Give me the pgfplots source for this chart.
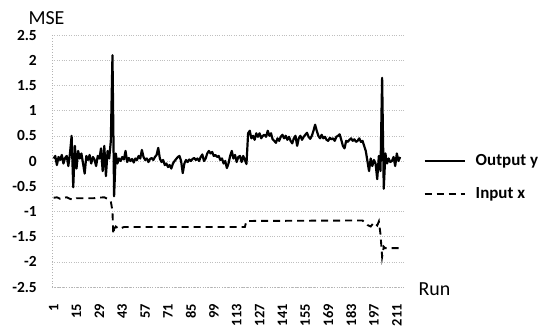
\documentclass[border=0pt]{standalone}
\usepackage{pgfplots}
\pgfplotsset{compat=1.18}
\usepackage{fontspec}
\setmainfont{Carlito}
\begin{document}
\begin{tikzpicture}
\useasboundingbox (-52bp,-41bp) rectangle (496bp,287bp);
\begin{axis}[
  scale only axis, width=353bp, height=252bp,
  xmin=0, xmax=216, ymin=-2.5, ymax=2.5,
  clip=false,
  axis lines=left,
  axis line style={-, draw=gray!60, dotted, line width=0.8pt},
  ytick={-2.5,-2,...,2.5},
  yticklabels={-2.5,-2,-1.5,-1,-0.5,0,0.5,1,1.5,2,2.5},
  xtick={1,15,29,43,57,71,85,99,113,127,141,155,169,183,197,211},
  xticklabels={1,15,29,43,57,71,85,99,113,127,141,155,169,183,197,211},
  major tick length=0pt,
  ymajorgrids,
  grid style={dotted, gray!50, line width=0.6pt},
  yticklabel style={font=\fontsize{15.5}{15.5}\selectfont\bfseries, inner sep=0pt, anchor=east, xshift=-15bp},
  xticklabel style={font=\fontsize{14.5}{14.5}\selectfont\bfseries, inner sep=0pt, rotate=90, anchor=east, xshift=-17bp},
  legend style={draw=none, fill=none, at={(rel axis cs:1.052,0.535)}, anchor=north west,
    font=\fontsize{17}{17}\selectfont\bfseries, row sep=17bp, column sep=8bp, inner sep=0pt,
    cells={anchor=west}},
  legend image code/.code={\draw[#1] (0bp,0bp) -- (40bp,0bp);},
]
\addplot[black, line width=2.2pt, line join=round] coordinates {
(1,0.05) (2,0.1) (3,-0.08) (4,0.08) (5,0.02) (6,0.12) (7,-0.05) (8,0.06) (9,0.1) (10,-0.1)
(11,0.15) (12,0.5) (13,-0.52) (14,0.3) (15,-0.15) (16,0.2) (17,0.05) (18,0.15) (19,-0.05) (20,-0.25)
(21,0.1) (22,0.02) (23,0.12) (24,-0.05) (25,0.08) (26,0.03) (27,-0.1) (28,0.1) (29,0.05) (30,0.25)
(31,-0.2) (32,0.3) (33,-0.3) (34,0.2) (35,0.05) (36,0.4) (37,2.1) (38,-0.7) (39,0.15) (40,-0.05)
(41,0.05) (42,0.0) (43,0.08) (44,0.03) (45,0.2) (46,-0.02) (47,0.06) (48,0.0) (49,0.04) (50,-0.03)
(51,0.05) (52,0.02) (53,0.1) (54,0.05) (55,0.22) (56,0.08) (57,0.02) (58,0.05) (59,-0.02) (60,0.04)
(61,0.06) (62,0.02) (63,0.08) (64,0.12) (65,0.26) (66,0.05) (67,-0.02) (68,0.02) (69,-0.08) (70,-0.05)
(71,-0.12) (72,-0.08) (73,-0.15) (74,-0.05) (75,0.0) (76,0.04) (77,0.08) (78,0.1) (79,0.0) (80,-0.24)
(81,-0.05) (82,0.02) (83,-0.02) (84,0.03) (85,0.0) (86,0.04) (87,0.06) (88,0.02) (89,0.05) (90,0.0)
(91,0.08) (92,0.13) (93,0.0) (94,0.05) (95,0.15) (96,0.2) (97,0.15) (98,0.18) (99,0.1) (100,0.12)
(101,0.08) (102,0.1) (103,0.02) (104,0.05) (105,-0.05) (106,0.0) (107,-0.14) (108,-0.05) (109,0.1) (110,0.2)
(111,0.05) (112,0.12) (113,-0.02) (114,0.08) (115,0.1) (116,-0.02) (117,0.1) (118,0.02) (119,-0.06) (120,0.55)
(121,0.6) (122,0.45) (123,0.5) (124,0.42) (125,0.55) (126,0.48) (127,0.55) (128,0.45) (129,0.5) (130,0.52)
(131,0.48) (132,0.6) (133,0.5) (134,0.55) (135,0.43) (136,0.4) (137,0.36) (138,0.45) (139,0.4) (140,0.48)
(141,0.52) (142,0.45) (143,0.5) (144,0.42) (145,0.48) (146,0.4) (147,0.35) (148,0.45) (149,0.5) (150,0.3)
(151,0.45) (152,0.5) (153,0.42) (154,0.48) (155,0.52) (156,0.56) (157,0.48) (158,0.44) (159,0.5) (160,0.6)
(161,0.72) (162,0.6) (163,0.5) (164,0.45) (165,0.52) (166,0.45) (167,0.48) (168,0.42) (169,0.4) (170,0.46)
(171,0.43) (172,0.45) (173,0.4) (174,0.48) (175,0.5) (176,0.53) (177,0.42) (178,0.3) (179,0.25) (180,0.4)
(181,0.38) (182,0.42) (183,0.45) (184,0.4) (185,0.43) (186,0.38) (187,0.4) (188,0.45) (189,0.38) (190,0.4)
(191,0.3) (192,0.2) (193,0.0) (194,-0.2) (195,0.05) (196,-0.1) (197,0.02) (198,-0.05) (199,-0.36) (200,0.1)
(201,-0.2) (202,1.65) (203,-0.55) (204,0.15) (205,-0.05) (206,0.05) (207,-0.02) (208,0.0) (209,0.08) (210,-0.1)
(211,0.15) (212,0.0) (213,0.08)
};
\addlegendentry{Output y}
\addplot[black, line width=1.9pt, dash pattern=on 7bp off 5bp] coordinates {
(1,-0.73) (3,-0.72) (5,-0.75) (7,-0.73) (9,-0.72) (11,-0.75) (13,-0.77) (15,-0.74) (20,-0.74)
(25,-0.74) (28,-0.73) (32,-0.72) (35,-0.77) (36,-0.8) (37,-1.0) (37.5,-1.45) (38,-1.35) (39,-1.3)
(41,-1.35) (44,-1.31) (118,-1.31) (119,-1.19) (190,-1.18) (193,-1.27) (195,-1.3) (197,-1.22)
(199,-1.28) (200,-1.2) (201,-1.45) (202,-1.9) (203,-1.7) (204,-1.73) (213,-1.73)
};
\addlegendentry{Input x}
\node[anchor=base west, font=\fontsize{20}{20}\selectfont] at (rel axis cs:0,1) [xshift=-27bp, yshift=10bp] {MSE};
\node[anchor=base west, font=\fontsize{20}{20}\selectfont] at (rel axis cs:1,0) [xshift=10bp, yshift=-8bp] {Run};
\end{axis}
\end{tikzpicture}
\end{document}
